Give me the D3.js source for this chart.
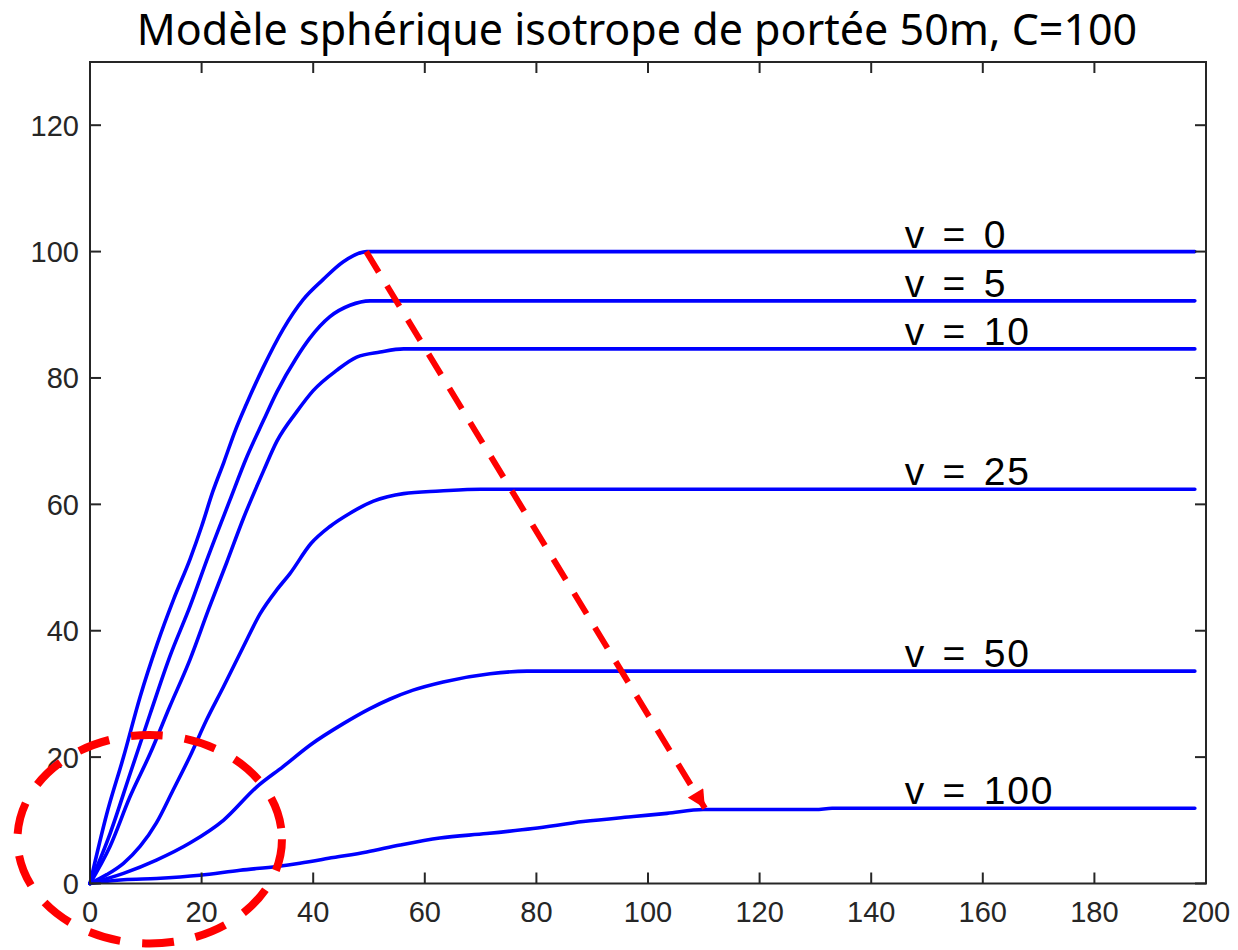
<!DOCTYPE html>
<html>
<head>
<meta charset="utf-8">
<script src="https://cdn.jsdelivr.net/npm/d3@7"></script>
<style>
  html, body { margin: 0; padding: 0; background: #fff; }
  svg { display: block; }
</style>
</head>
<body>
<svg id="chart" width="1238" height="950"></svg>
<script>
// ---------- data ----------
const titleText = "Modèle sphérique isotrope de portée 50m, C=100";
const xTicks = [0, 20, 40, 60, 80, 100, 120, 140, 160, 180, 200];
const yTicks = [0, 20, 40, 60, 80, 100, 120];
const xDomain = [0, 200];
const yDomain = [0, 130];

// [distance, gamma] pairs for each support size v
const curveV0 = [[0,0],[3,11],[6,20],[9,29.6],[12,37.8],[15,45],[18,51.5],[20,56.5],[22,62],[24,66.7],[26,71.6],[28,75.8],[31,81.6],[34.6,87.7],[38.2,92.4],[41.8,95.6],[45.4,98.4],[49.6,100],[198,100]];
const curveV5 = [[0,0],[3.6,7.9],[7.2,17.4],[10.8,26.9],[14.3,35.9],[17.9,43.8],[21.2,51.8],[25,60.5],[28.1,67.5],[31.1,73.3],[33.5,77.8],[37,83.2],[39.4,86.3],[43,89.7],[46.6,91.5],[50.2,92.2],[198,92.2]];
const curveV10 = [[0,0],[3.6,5.9],[7.2,13.8],[10.8,20.6],[14.3,28],[17.9,35.4],[21.3,43.5],[24.5,50.8],[27.5,57.8],[31.1,65.3],[33.5,70],[37,74.6],[40,78],[44.2,81.2],[47.8,83.3],[52,84.1],[56.2,84.6],[198,84.6]];
const curveV25 = [[0,0],[3,1.4],[6,3.2],[9,5.9],[11.9,9.6],[14.9,14.8],[17.9,20.1],[20.9,25.9],[23.9,31.1],[27.5,37.5],[30.5,42.7],[33.5,46.5],[35.8,49],[39.6,53.8],[43,56.5],[46.6,58.6],[50.8,60.5],[56.2,61.7],[62.7,62.1],[70,62.4],[198,62.4]];
const curveV50 = [[0,0],[6,1.6],[11.9,3.7],[17.9,6.4],[23.9,10],[29.9,15.3],[34.6,18.5],[39.6,22],[45.4,25.3],[50,27.6],[53.8,29.2],[57.9,30.6],[63.3,31.9],[71.7,33.2],[78.3,33.6],[198,33.6]];
const curveV100 = [[0,0],[6,0.6],[11.9,0.8],[19.7,1.3],[26.9,2.1],[33.5,2.7],[37.6,3.2],[43.6,4.1],[49.6,5],[55.6,6.1],[62.7,7.2],[71.1,7.9],[79.4,8.7],[88.4,9.8],[97.4,10.6],[103.4,11.1],[109.9,11.7],[130,11.7],[133,11.9],[198,11.9]];

const seriesNames = ["v = 0", "v = 5", "v = 10", "v = 25", "v = 50", "v = 100"];
const seriesCurves = [curveV0, curveV5, curveV10, curveV25, curveV50, curveV100];
const labelX = 146; // distance at which labels start

// annotations (data units)
const arrowFrom = [49.5, 100];
const arrowTo = [110.2, 11.9];
const ellipseCenter = [10.7, 7.0];
const ellipseRadii = [23.7, 16.5];

// ---------- layout ----------
const svg = d3.select("#chart");
const L = 90, R = 1206, T = 62, B = 883.5;
const x = d3.scaleLinear().domain(xDomain).range([L, R]);
const y = d3.scaleLinear().domain(yDomain).range([B, T]);

// title
svg.append("text")
  .attr("x", 637).attr("y", 45)
  .attr("text-anchor", "middle")
  .attr("font-family", "'Noto Sans', sans-serif")
  .attr("font-size", 43)
  .attr("fill", "#000")
  .text(titleText);

// curves
const line = d3.line().x(d => x(d[0])).y(d => y(d[1])).curve(d3.curveMonotoneX);
svg.append("g").selectAll("path").data(seriesCurves).join("path")
  .attr("d", line)
  .attr("fill", "none")
  .attr("stroke", "#0000ff")
  .attr("stroke-width", 3.6)
  .attr("stroke-linejoin", "round")
  .attr("stroke-linecap", "round");

// series labels
svg.append("g").selectAll("text").data(seriesCurves).join("text")
  .attr("x", x(labelX))
  .attr("y", d => y(d[d.length - 1][1]) - 4)
  .attr("font-family", "'Liberation Sans', Arial, sans-serif")
  .attr("font-size", 39)
  .attr("fill", "#000")
  .style("white-space", "pre")
  .style("letter-spacing", "1.8px")
  .style("word-spacing", "4px")
  .text((d, i) => seriesNames[i]);

// frame + axes (ticks inward on all sides)
const tickLen = 11;
const frame = svg.append("g").attr("stroke", "#262626").attr("stroke-width", 2).attr("fill", "none");
frame.append("rect").attr("x", L).attr("y", T).attr("width", R - L).attr("height", B - T);
xTicks.forEach(t => {
  frame.append("line").attr("x1", x(t)).attr("x2", x(t)).attr("y1", B).attr("y2", B - tickLen);
  frame.append("line").attr("x1", x(t)).attr("x2", x(t)).attr("y1", T).attr("y2", T + tickLen);
});
yTicks.forEach(t => {
  frame.append("line").attr("x1", L).attr("x2", L + tickLen).attr("y1", y(t)).attr("y2", y(t));
  frame.append("line").attr("x1", R).attr("x2", R - tickLen).attr("y1", y(t)).attr("y2", y(t));
});

const tickFont = "'Liberation Sans', Arial, sans-serif";
svg.append("g").selectAll("text").data(xTicks).join("text")
  .attr("x", d => x(d)).attr("y", 922)
  .attr("text-anchor", "middle")
  .attr("font-family", tickFont).attr("font-size", 29).attr("fill", "#262626")
  .text(d => d);
svg.append("g").selectAll("text").data(yTicks).join("text")
  .attr("x", 79).attr("y", d => y(d) + 10.5)
  .attr("text-anchor", "end")
  .attr("font-family", tickFont).attr("font-size", 29).attr("fill", "#262626")
  .text(d => d);

// red annotations
const defs = svg.append("defs");
defs.append("marker").attr("id", "ah")
  .attr("viewBox", "0 0 10 10").attr("refX", 10).attr("refY", 5)
  .attr("markerUnits", "userSpaceOnUse")
  .attr("markerWidth", 20).attr("markerHeight", 18)
  .attr("orient", "auto")
  .append("path").attr("d", "M0,0 L10,5 L0,10 z").attr("fill", "#ff0000");

svg.append("line")
  .attr("x1", x(arrowFrom[0])).attr("y1", y(arrowFrom[1]))
  .attr("x2", x(arrowTo[0])).attr("y2", y(arrowTo[1]))
  .attr("stroke", "#ff0000").attr("stroke-width", 6)
  .attr("stroke-dasharray", "24,16")
  .attr("marker-end", "url(#ah)");

svg.append("ellipse")
  .attr("cx", x(ellipseCenter[0])).attr("cy", y(ellipseCenter[1]))
  .attr("rx", x(ellipseRadii[0]) - x(0)).attr("ry", y(0) - y(ellipseRadii[1]))
  .attr("fill", "none").attr("stroke", "#ff0000").attr("stroke-width", 8)
  .attr("stroke-dasharray", "32,22");
</script>
</body>
</html>
